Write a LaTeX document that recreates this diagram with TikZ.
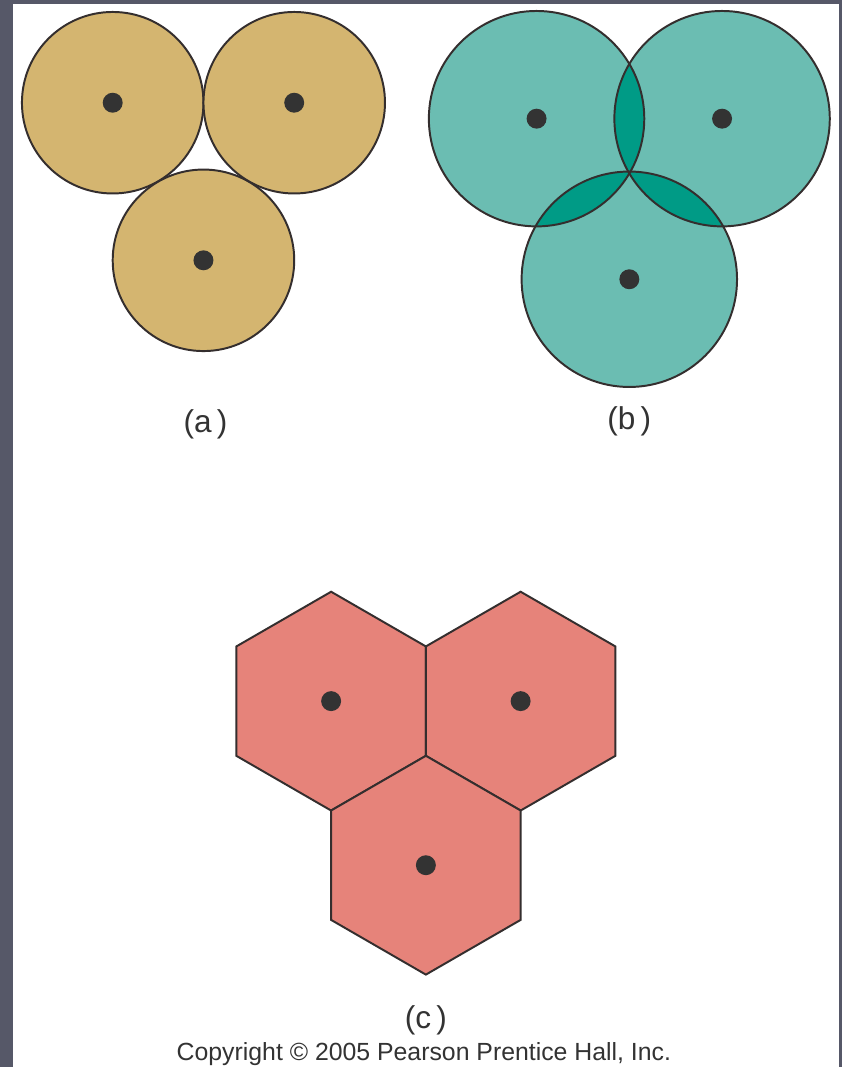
\documentclass[tikz,border=0pt]{standalone}
\usepackage{fontspec}
\setmainfont{Liberation Sans}
\definecolor{SlideGray}{RGB}{86,88,104}
\definecolor{Sand}{RGB}{212,181,112}
\definecolor{SeaLight}{RGB}{107,189,178}
\definecolor{SeaDark}{RGB}{0,155,134}
\definecolor{Coral}{RGB}{230,131,122}
\definecolor{Rim}{RGB}{52,46,46}
\definecolor{Ink}{RGB}{51,51,51}

\begin{document}
\begin{tikzpicture}[x=0.025cm, y=-0.025cm,
  rim/.style={draw=Rim, line width=1.4pt},
  dot/.style={circle, fill=Ink, inner sep=0pt, minimum size=0.5cm},
  lbl/.style={text=Ink, font=\fontsize{22.5}{26}\selectfont},
  hexcell/.style={rim, fill=Coral, line join=miter}]
% slide frame
\fill[SlideGray] (0,0) rectangle (844,1070);
\fill[white] (13,4) rectangle (841,1070);

% (a) touching circles
\coordinate (a1) at (113,103);
\coordinate (a2) at (295,103);
\coordinate (a3) at (204,261);
\foreach \c in {a1,a2,a3}
  \draw[rim, fill=Sand] (\c) circle (91);

% (b) overlapping circles
\coordinate (b1) at (538,119);
\coordinate (b2) at (724,119);
\coordinate (b3) at (631,280);
\foreach \c in {b1,b2,b3}
  \fill[SeaLight] (\c) circle (108);
\begin{scope}
  \clip (b1) circle (108);
  \fill[SeaDark] (b2) circle (108);
  \fill[SeaDark] (b3) circle (108);
\end{scope}
\begin{scope}
  \clip (b2) circle (108);
  \fill[SeaDark] (b3) circle (108);
\end{scope}
\foreach \c in {b1,b2,b3}
  \draw[rim] (\c) circle (108);

% (c) hexagonal cells
\coordinate (c1) at (332,703);
\coordinate (c2) at (522,703);
\coordinate (c3) at (427,867.5);
\foreach \c in {c1,c2,c3}
  \draw[hexcell, shift={(\c)}] (0,-109.7) -- (95,-54.85) -- (95,54.85) -- (0,109.7)
    -- (-95,54.85) -- (-95,-54.85) -- cycle;

% base stations
\foreach \c in {a1,a2,a3,b1,b2,b3,c1,c2,c3}
  \node[dot] (s\c) at (\c) {};

\node[lbl] (la) at (206,425) {(a\,)};
\node[lbl] (lb) at (631,422) {(b\,)};
\node[lbl] (lc) at (427,1023) {(c\,)};
\node[text=Ink, font=\fontsize{17.7}{21}\selectfont, anchor=base] (copy) at (425,1063)
  {Copyright © 2005 Pearson Prentice Hall, Inc.};
\end{tikzpicture}
\end{document}
